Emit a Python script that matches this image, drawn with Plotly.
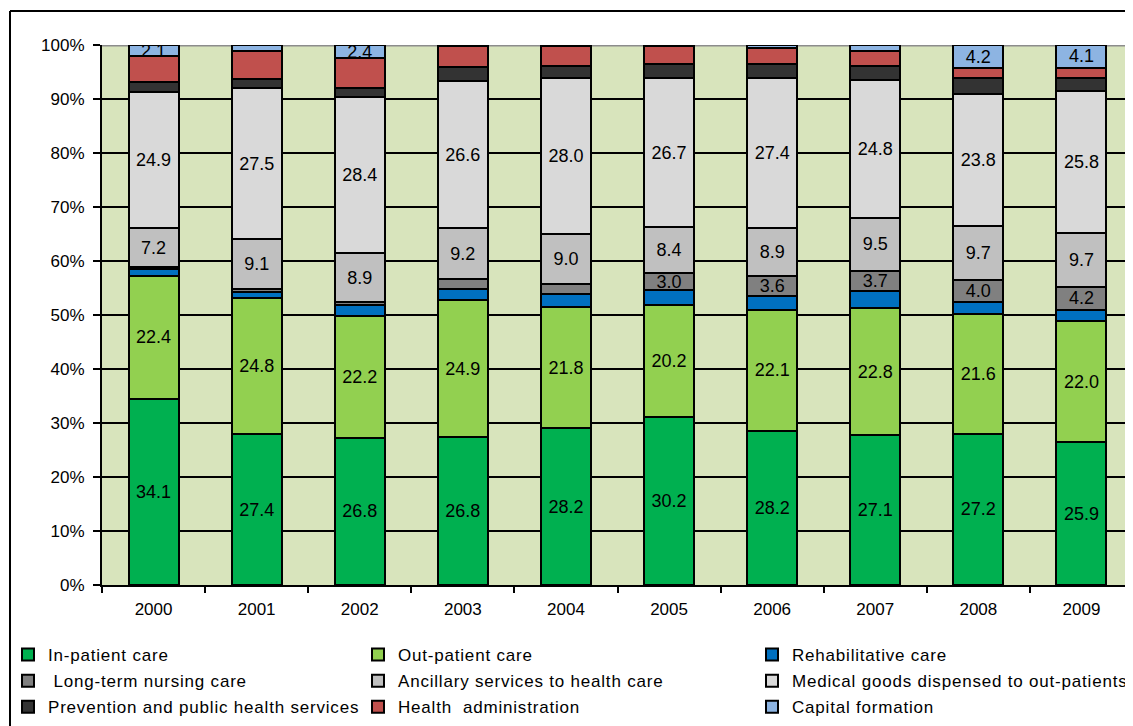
import plotly.graph_objects as go

years = ["2000", "2001", "2002", "2003", "2004", "2005", "2006", "2007", "2008", "2009"]

inpatient = [34.1, 27.4, 26.8, 26.8, 28.2, 30.2, 28.2, 27.1, 27.2, 25.9]
outpatient = [22.4, 24.8, 22.2, 24.9, 21.8, 20.2, 22.1, 22.8, 21.6, 22.0]
rehab = [1.3, 1.1, 2.0, 1.9, 2.3, 2.7, 2.5, 3.1, 2.1, 2.1]
longterm = [0.3, 0.5, 0.5, 1.9, 1.8, 3.0, 3.6, 3.7, 4.0, 4.2]
ancillary = [7.2, 9.1, 8.9, 9.2, 9.0, 8.4, 8.9, 9.5, 9.7, 9.7]
medical = [24.9, 27.5, 28.4, 26.6, 28.0, 26.7, 27.4, 24.8, 23.8, 25.8]
prevention = [1.9, 1.6, 1.7, 2.6, 2.3, 2.5, 2.6, 2.7, 2.8, 2.4]
admin = [4.6, 5.2, 5.4, 3.8, 3.5, 3.3, 2.8, 2.7, 1.8, 1.9]
capital = [2.1, 1.0, 2.4, 0.2, 0.2, 0.2, 0.6, 1.0, 4.2, 4.1]

y_ticks = [0, 10, 20, 30, 40, 50, 60, 70, 80, 90, 100]
y_tick_labels = ["0%", "10%", "20%", "30%", "40%", "50%", "60%", "70%", "80%", "90%", "100%"]

# (name, values, colour, labelled?, legend column)
series = [
    ("In-patient care", inpatient, "#00B050", True, "legend"),
    ("Out-patient care", outpatient, "#92D050", True, "legend2"),
    ("Rehabilitative care", rehab, "#0070C0", False, "legend3"),
    (" Long-term nursing care", longterm, "#808080", True, "legend"),
    ("Ancillary services to health care", ancillary, "#C0C0C0", True, "legend2"),
    ("Medical goods dispensed to out-patients", medical, "#D9D9D9", True, "legend3"),
    ("Prevention and public health services", prevention, "#333333", False, "legend"),
    ("Health  administration", admin, "#C0504D", False, "legend2"),
    ("Capital formation", capital, "#8DB4E2", True, "legend3"),
]

FONT = "Liberation Sans, Arial, sans-serif"

fig = go.Figure()
for i, (name, vals, col, lab, leg) in enumerate(series):
    txt = [f"{v:.1f}" if (lab and v >= 2.0) else "" for v in vals]
    fig.add_trace(go.Bar(
        x=years, y=vals,
        name=f'<span style="letter-spacing:0.8px">{name}</span>',
        marker=dict(color=col, line=dict(color="black", width=2)),
        text=txt, textposition="inside", insidetextanchor="middle",
        textangle=0, constraintext="none",
        textfont=dict(family=FONT, size=18, color="black"),
        legend=leg, legendgroup=f"g{i}",
        hoverinfo="skip",
    ))

# The page body adds an 8px offset, so the figure is 8px smaller and
# all pixel positions below are in figure coordinates (screen - 8).
OFF = 8
W, H = 1133 - OFF, 726 - OFF
L, R, T = 102 - OFF, 0, 45 - OFF
B = H - (585 - OFF)
pw, ph = W - L - R, H - T - B

def px_x(x):
    return (x - OFF - L) / pw

def px_y(y):
    return (H - B - (y - OFF)) / ph

shapes = [
    # gray top border of plot area
    dict(type="line", xref="paper", yref="y", x0=0, x1=1, y0=100, y1=100,
         line=dict(color="#8C8C8C", width=3), layer="between"),
    # outer chart frame (left and top edges)
    dict(type="line", xref="paper", yref="paper", x0=px_x(10), x1=px_x(10),
         y0=px_y(11), y1=px_y(740), line=dict(color="black", width=2), layer="above"),
    dict(type="line", xref="paper", yref="paper", x0=px_x(10), x1=px_x(1150),
         y0=px_y(11), y1=px_y(11), line=dict(color="black", width=2), layer="above"),
]

legend_common = dict(
    orientation="v", xref="container", yref="container",
    xanchor="left", yanchor="top", bgcolor="rgba(0,0,0,0)",
    font=dict(family=FONT, size=17, color="black"),
    tracegroupgap=1, traceorder="grouped",
)

LEG_TOP = 637 - OFF
fig.update_layout(
    width=W, height=H,
    barmode="stack", barnorm="percent", bargap=0.515,
    paper_bgcolor="white", plot_bgcolor="#D8E4BC",
    margin=dict(l=L, r=R, t=T, b=B, autoexpand=False),
    font=dict(family=FONT, size=17, color="black"),
    uniformtext=dict(minsize=18, mode="show"),
    xaxis=dict(
        type="category", showgrid=False, showline=True, linecolor="black",
        linewidth=2, ticks="outside", tickson="boundaries", ticklen=6,
        tickwidth=2, tickcolor="black", tickfont=dict(size=17),
        ticklabelstandoff=8,
    ),
    yaxis=dict(
        range=[0, 100], tickvals=y_ticks, ticktext=y_tick_labels,
        showgrid=True, gridcolor="black", gridwidth=2,
        showline=True, linecolor="black", linewidth=2,
        ticks="outside", ticklen=7, tickwidth=2, tickcolor="black",
        tickfont=dict(size=17), zeroline=False, ticklabelstandoff=5,
    ),
    legend=dict(x=0.0, y=1 - LEG_TOP / H, **legend_common),
    legend2=dict(x=(358 - OFF) / W, y=1 - LEG_TOP / H, **legend_common),
    legend3=dict(x=(752 - OFF) / W, y=1 - LEG_TOP / H, **legend_common),
    shapes=shapes,
    showlegend=True,
)

fig.write_html("out.html")
